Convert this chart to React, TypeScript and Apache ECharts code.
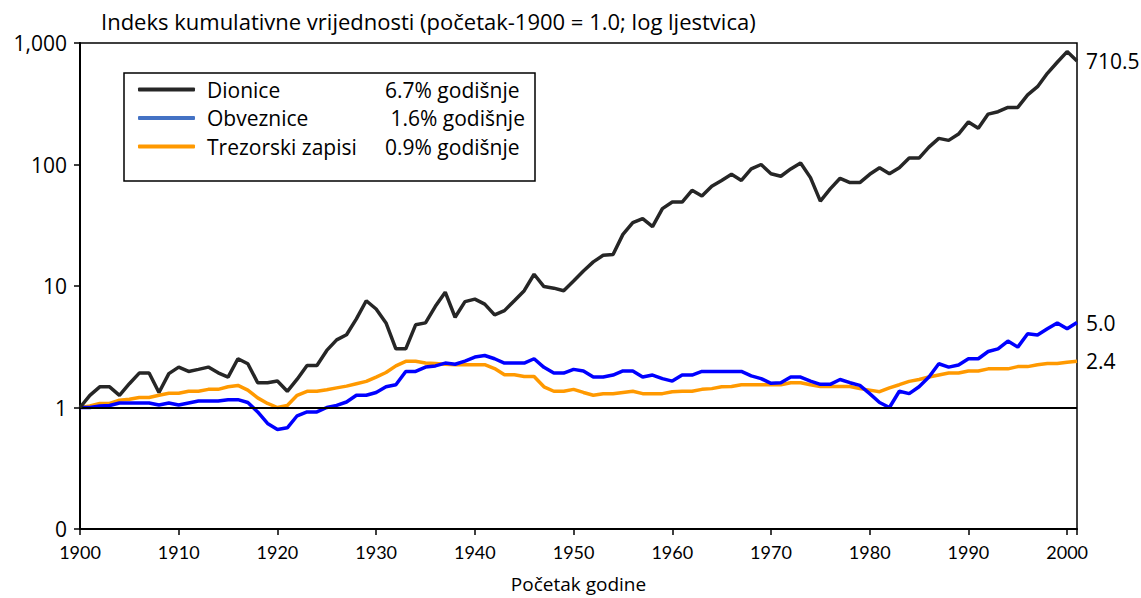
import React, { useEffect, useRef } from "react";
import * as echarts from "echarts";

const startYear = 1900;

const dionice = [
  1.0, 1.26, 1.48, 1.48, 1.26, 1.57, 1.92, 1.92, 1.33, 1.9,
  2.15, 1.98, 2.06, 2.15, 1.93, 1.78, 2.52, 2.29, 1.6, 1.6,
  1.65, 1.36, 1.71, 2.22, 2.22, 2.95, 3.6, 3.97, 5.36, 7.56,
  6.47, 4.97, 3.04, 3.04, 4.79, 4.97, 6.8, 8.9, 5.53, 7.44,
  7.8, 7.1, 5.78, 6.27, 7.56, 9.15, 12.5, 9.9, 9.6, 9.15,
  11.0, 13.3, 15.8, 17.9, 18.2, 26.6, 33.2, 35.9, 30.8, 43.3,
  49.1, 49.1, 61.3, 55.0, 66.3, 74, 83, 74, 92, 100,
  84, 80, 92, 103, 78, 50, 63, 77, 71, 71,
  83, 94, 84, 94, 113, 113, 139, 164, 158, 178,
  224, 199, 260, 272, 295, 295, 374, 437, 563, 694,
  850, 710.5,
];

const obveznice = [
  1.0, 1.0, 1.03, 1.04, 1.09, 1.09, 1.09, 1.09, 1.05, 1.09,
  1.05, 1.09, 1.13, 1.13, 1.13, 1.16, 1.16, 1.1, 0.92, 0.74,
  0.66, 0.68, 0.855, 0.92, 0.92, 1.0, 1.04, 1.11, 1.26, 1.26,
  1.33, 1.48, 1.54, 1.98, 1.98, 2.15, 2.2, 2.32, 2.27, 2.41,
  2.6, 2.68, 2.52, 2.32, 2.32, 2.32, 2.52, 2.14, 1.92, 1.92,
  2.06, 2.0, 1.78, 1.78, 1.85, 2.0, 2.0, 1.78, 1.85, 1.73,
  1.65, 1.85, 1.85, 1.98, 1.98, 1.98, 1.98, 1.98, 1.82, 1.73,
  1.58, 1.6, 1.78, 1.78, 1.65, 1.55, 1.55, 1.7, 1.6, 1.52,
  1.3, 1.1, 1.0, 1.36, 1.3, 1.48, 1.78, 2.29, 2.15, 2.24,
  2.52, 2.52, 2.89, 3.04, 3.52, 3.14, 4.04, 3.95, 4.44, 4.97,
  4.44, 5.0,
];

const trezorski = [
  1.0, 1.03, 1.08, 1.08, 1.15, 1.17, 1.21, 1.21, 1.26, 1.31,
  1.31, 1.36, 1.36, 1.41, 1.41, 1.48, 1.52, 1.39, 1.2, 1.08,
  1.0, 1.04, 1.26, 1.36, 1.36, 1.4, 1.45, 1.5, 1.57, 1.64,
  1.78, 1.94, 2.2, 2.4, 2.4, 2.32, 2.3, 2.27, 2.25, 2.25,
  2.25, 2.25, 2.09, 1.86, 1.86, 1.8, 1.8, 1.48, 1.36, 1.36,
  1.41, 1.33, 1.26, 1.3, 1.3, 1.33, 1.36, 1.3, 1.3, 1.3,
  1.35, 1.36, 1.36, 1.41, 1.43, 1.48, 1.49, 1.54, 1.54, 1.54,
  1.54, 1.54, 1.6, 1.6, 1.54, 1.49, 1.49, 1.49, 1.49, 1.43,
  1.39, 1.35, 1.45, 1.54, 1.64, 1.7, 1.78, 1.85, 1.92, 1.92,
  2.0, 2.0, 2.08, 2.08, 2.08, 2.17, 2.17, 2.25, 2.3, 2.3,
  2.36, 2.4,
];

const seriesNames = ["Dionice", "Obveznice", "Trezorski zapisi"];
const seriesRates = ["6.7% godišnje", " 1.6% godišnje", "0.9% godišnje"];
const endLabels = ["710.5", "5.0", "2.4"];
const lineColors = ["#262626", "#0000FF", "#FF9900"];
const legendColors = ["#262626", "#4472C4", "#FF9900"];

const titleText = "Indeks kumulativne vrijednosti (početak-1900 = 1.0; log ljestvica)";
const xAxisName = "Početak godine";

const FONT = "Open Sans";
const NARROW = "Lato";

function toPairs(values: number[]) {
  return values.map((v, i) => [startYear + i, v]);
}

export default function App() {
  const ref = useRef<HTMLDivElement>(null);

  useEffect(() => {
    document.body.style.margin = "0";
    if (!ref.current) return;
    const chart = echarts.init(ref.current, null, { renderer: "svg" });
    const allValues = [dionice, obveznice, trezorski];

    const makeSeries = (idx: number, z: number) => ({
      name: seriesNames[idx],
      type: "line",
      data: toPairs(allValues[idx]),
      symbol: "none",
      showSymbol: false,
      z,
      lineStyle: { color: lineColors[idx], width: 3.5 },
      itemStyle: { color: lineColors[idx] },
      endLabel: {
        show: true,
        formatter: endLabels[idx],
        color: "#000",
        fontFamily: FONT,
        fontSize: 21,
        distance: 9,
      },
    });

    const option = {
      animation: false,
      textStyle: { fontFamily: FONT },
      title: {
        text: titleText,
        left: 96,
        top: 5,
        textStyle: { fontFamily: FONT, fontSize: 22, fontWeight: "normal", color: "#000" },
      },
      grid: {
        left: 80,
        right: 64,
        top: 43,
        bottom: 67,
        show: true,
        borderColor: "#000",
        borderWidth: 1.5,
        containLabel: false,
      },
      graphic: [
        {
          type: "rect",
          shape: { x: 124, y: 73, width: 411, height: 108 },
          style: { fill: "#fff", stroke: "#000", lineWidth: 1.5 },
          z: 50,
        },
      ],
      legend: {
        orient: "vertical",
        left: 131,
        top: 79,
        padding: [0, 0, 0, 7],
        icon: "roundRect",
        itemWidth: 57,
        itemHeight: 4,
        itemGap: 7.5,
        z: 60,
        data: seriesNames.map((n, i) => ({
          name: n,
          itemStyle: { color: legendColors[i] },
        })),
        formatter: (name: string) => {
          const i = seriesNames.indexOf(name);
          return `{n|${name}}{p|${seriesRates[i]}}`;
        },
        textStyle: {
          color: "#000",
          fontFamily: FONT,
          fontSize: 21,
          rich: {
            n: { fontFamily: FONT, fontSize: 21, width: 178, padding: [0, 0, 0, 7], lineHeight: 21 },
            p: { fontFamily: FONT, fontSize: 21, lineHeight: 21 },
          },
        },
      },
      xAxis: {
        type: "value",
        min: 1900,
        max: 2001,
        interval: 10,
        name: xAxisName,
        nameLocation: "middle",
        nameGap: 45,
        nameTextStyle: { fontFamily: FONT, fontSize: 19, color: "#000" },
        axisLine: { show: true, lineStyle: { color: "#000", width: 2 } },
        axisTick: { show: true, length: 6, lineStyle: { color: "#000", width: 1.5 } },
        axisLabel: {
          margin: 14,
          fontFamily: NARROW,
          fontSize: 18,
          color: "#000",
          formatter: (v: number) => (v > 2000 ? "" : String(v)),
        },
        splitLine: { show: false },
      },
      yAxis: {
        type: "log",
        logBase: 10,
        min: 0.1,
        max: 1000,
        axisLine: { show: true, lineStyle: { color: "#000", width: 2 } },
        axisTick: { show: true, length: 6, lineStyle: { color: "#000", width: 1.5 } },
        axisLabel: {
          margin: 13,
          fontFamily: FONT,
          fontSize: 21,
          lineHeight: 18,
          color: "#000",
          formatter: (v: number) => {
            if (v < 0.5) return "0";
            return Math.round(v).toLocaleString("en-US");
          },
        },
        splitLine: { show: false },
      },
      series: [
        {
          ...makeSeries(2, 3),
          markLine: {
            silent: true,
            symbol: "none",
            label: { show: false },
            lineStyle: { color: "#000", width: 2, type: "solid" },
            data: [{ yAxis: 1 }],
          },
        },
        makeSeries(1, 4),
        makeSeries(0, 5),
      ],
    };

    chart.setOption(option as any);
    return () => chart.dispose();
  }, []);

  return <div ref={ref} style={{ width: 1141, height: 598 }} />;
}
